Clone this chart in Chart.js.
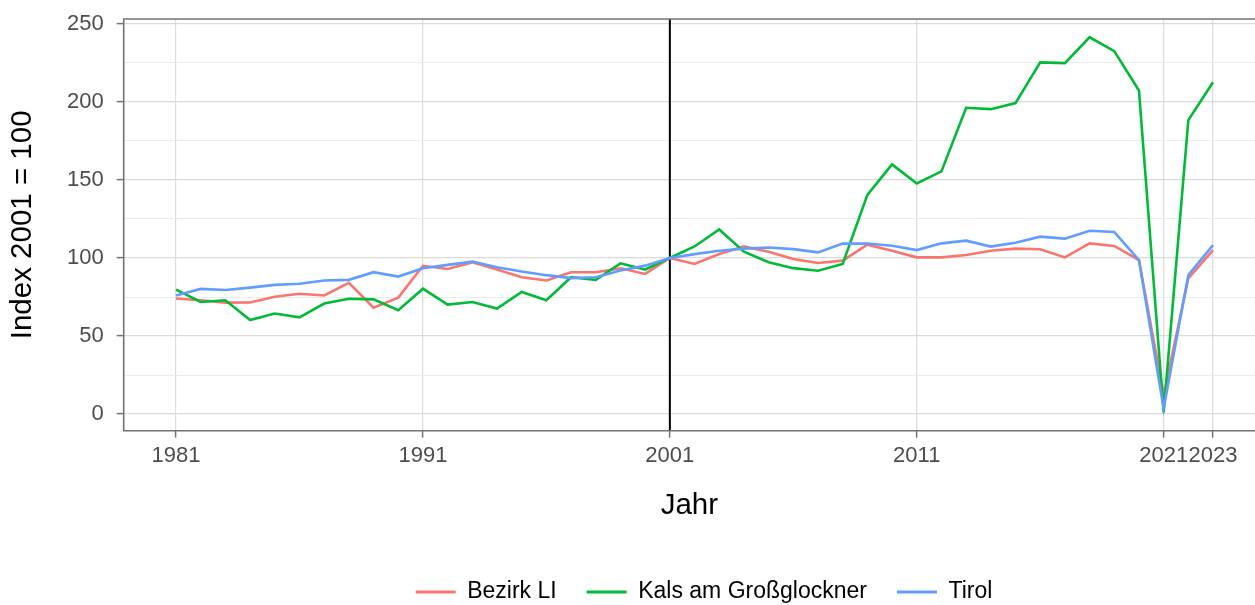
<!DOCTYPE html>
<html>
<head>
<meta charset="utf-8">
<script src="https://cdn.jsdelivr.net/npm/chart.js@4"></script>
<style>
  html, body { margin: 0; padding: 0; background: #fff; overflow: hidden; }
  #wrap { width: 1255px; height: 605px; }
</style>
</head>
<body>
<div id="wrap"><canvas id="c" width="1255" height="605"></canvas></div>
<script>
// values, index 2001 = 100
const years = [1981, 1982, 1983, 1984, 1985, 1986, 1987, 1988, 1989, 1990,
  1991, 1992, 1993, 1994, 1995, 1996, 1997, 1998, 1999, 2000,
  2001, 2002, 2003, 2004, 2005, 2006, 2007, 2008, 2009, 2010,
  2011, 2012, 2013, 2014, 2015, 2016, 2017, 2018, 2019, 2020,
  2021, 2022, 2023];

const bezirkLI = [74, 72.9, 71.4, 71.5, 75.2, 77.1, 76, 84.1, 68.2, 74.6,
  95, 93, 97.2, 92.6, 87.7, 85.6, 90.9, 90.9, 93.4, 89.8,
  100, 96.2, 102.5, 107.4, 104, 99.4, 96.8, 98.3, 108.5, 104.7,
  100.4, 100.4, 101.9, 104.7, 106, 105.6, 100.4, 109.4, 107.7, 98.7,
  12.2, 87, 105.1];

const kals = [79.7, 71.8, 72.9, 60.2, 64.4, 62, 70.8, 73.9, 73.5, 66.5,
  80.3, 70.1, 71.8, 67.6, 78.2, 72.9, 87.7, 86, 96.6, 92.6,
  100, 107.4, 118.3, 104, 97.3, 93.5, 91.8, 96.2, 140.5, 160,
  147.8, 155.5, 196.3, 195.4, 199.3, 225.4, 224.9, 241.5, 232.6, 207.4,
  0.9, 188.4, 212.7];

const tirol = [76, 80.2, 79.5, 81, 82.8, 83.5, 85.6, 86, 90.9, 88.1,
  93.4, 95.6, 97.7, 94.1, 91.3, 89, 87.1, 87.7, 92, 95.1,
  100, 102.5, 104.6, 106, 106.7, 105.7, 103.6, 109.2, 109.3, 107.9,
  105.1, 109.4, 111.1, 107.3, 109.8, 113.7, 112.4, 117.5, 116.7, 98.7,
  3.6, 89.1, 108.3];

const seriesNames = ['Bezirk LI', 'Kals am Großglockner', 'Tirol'];
const xTickYears = [1981, 1991, 2001, 2011, 2021, 2023];
const yTickValues = [0, 25, 50, 75, 100, 125, 150, 175, 200, 225, 250];
const baseYear = 2001;

const FONT = "'Liberation Sans', Arial, sans-serif";
Chart.defaults.font.family = FONT;

function pts(arr) {
  return years.map((yr, i) => ({ x: yr, y: arr[i] }));
}

// black reference line at 2001 + grey panel border (right side is cropped off)
const panel = {
  id: 'panel',
  beforeDatasetsDraw(chart) {
    const { ctx, chartArea, scales } = chart;
    const x = scales.x.getPixelForValue(baseYear);
    ctx.save();
    ctx.strokeStyle = '#000';
    ctx.lineWidth = 2;
    ctx.beginPath();
    ctx.moveTo(x, chartArea.top);
    ctx.lineTo(x, chartArea.bottom);
    ctx.stroke();
    ctx.restore();
  },
  afterDatasetsDraw(chart) {
    const { ctx, chartArea: a } = chart;
    ctx.save();
    ctx.strokeStyle = '#737373';
    ctx.lineWidth = 1.6;
    ctx.beginPath();
    ctx.moveTo(a.right + 5, a.top);
    ctx.lineTo(a.left, a.top);
    ctx.lineTo(a.left, a.bottom);
    ctx.lineTo(a.right + 5, a.bottom);
    ctx.stroke();
    ctx.restore();
  }
};

function line(label, data, color, order) {
  return {
    label: label,
    data: pts(data),
    borderColor: color,
    backgroundColor: color,
    borderWidth: 2.6,
    pointRadius: 0,
    tension: 0,
    order: order
  };
}

new Chart(document.getElementById('c'), {
  type: 'line',
  data: {
    datasets: [
      line(seriesNames[0], bezirkLI, '#F8766D', 3),
      line(seriesNames[1], kals, '#00BA38', 2),
      line(seriesNames[2], tirol, '#619CFF', 1)
    ]
  },
  options: {
    responsive: false,
    devicePixelRatio: 1,
    animation: false,
    layout: { padding: { top: 19, right: -153, bottom: -8.5, left: 0 } },
    plugins: {
      tooltip: { enabled: false },
      legend: {
        position: 'bottom',
        labels: {
          font: { size: 23, family: FONT },
          color: '#000',
          boxWidth: 40,
          boxHeight: 3,
          padding: 30,
          sort: (a, b) => a.datasetIndex - b.datasetIndex,
          generateLabels: (chart) => Chart.defaults.plugins.legend.labels.generateLabels(chart)
            .map(l => Object.assign(l, { lineWidth: 0 }))
        }
      }
    },
    scales: {
      x: {
        type: 'linear',
        min: 1978.88,
        max: 2024.70,
        afterBuildTicks: (s) => { s.ticks = xTickYears.map(v => ({ value: v })); },
        afterFit: (s) => { s.height = 119.8; s.paddingLeft = 0; s.paddingRight = 0; },
        border: { display: false },
        grid: {
          color: '#dcdcdc',
          lineWidth: 1.2,
          tickLength: 7,
          tickColor: '#737373',
          tickWidth: 1.5
        },
        ticks: {
          autoSkip: false,
          maxRotation: 0,
          padding: 5,
          color: '#4d4d4d',
          font: { size: 22 },
          callback: (v) => String(v)
        },
        title: {
          display: true,
          text: 'Jahr',
          color: '#000',
          font: { size: 29.5 },
          padding: { top: 0, bottom: 27 }
        }
      },
      y: {
        type: 'linear',
        min: -10.7,
        max: 253.2,
        afterBuildTicks: (s) => { s.ticks = yTickValues.map(v => ({ value: v })); },
        afterFit: (s) => { s.width = 123.7; s.paddingTop = 0; s.paddingBottom = 0; },
        border: { display: false },
        grid: {
          color: (c) => (c.tick && c.tick.value % 50 === 0) ? '#dadada' : '#ebebeb',
          lineWidth: (c) => (c.tick && c.tick.value % 50 === 0) ? 1.2 : 1,
          tickLength: 7,
          tickColor: (c) => (c.tick && c.tick.value % 50 === 0) ? '#737373' : 'rgba(0,0,0,0)',
          tickWidth: 1.5
        },
        ticks: {
          padding: 13,
          color: '#4d4d4d',
          font: { size: 22 },
          callback: (v) => (v % 50 === 0 ? String(v) : '')
        },
        title: {
          display: true,
          text: 'Index 2001 = 100',
          color: '#000',
          font: { size: 29.5 },
          padding: { top: 5, bottom: 0 }
        }
      }
    }
  },
  plugins: [panel]
});
</script>
</body>
</html>
